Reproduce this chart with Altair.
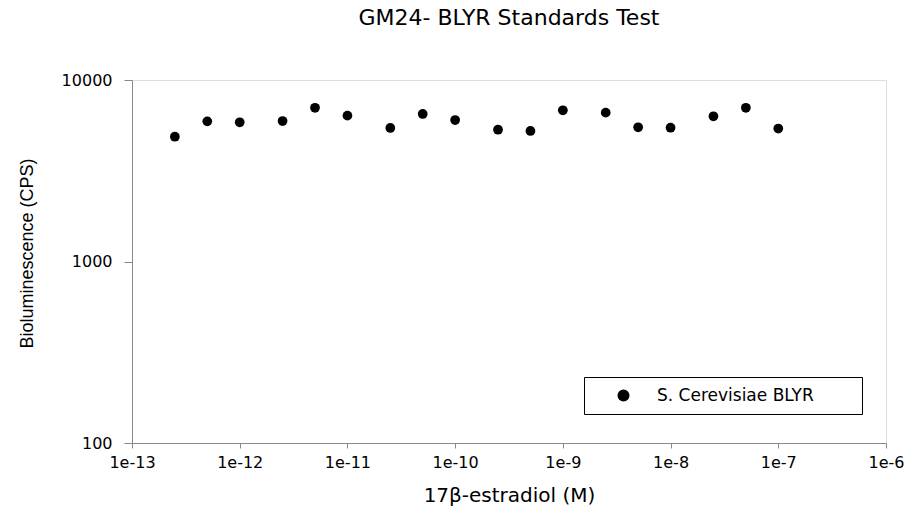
import altair as alt
import pandas as pd

# ---- data ----
concentration = [2.5e-13, 5e-13, 1e-12, 2.5e-12, 5e-12, 1e-11, 2.5e-11, 5e-11, 1e-10,
                 2.5e-10, 5e-10, 1e-9, 2.5e-9, 5e-9, 1e-8, 2.5e-8, 5e-8, 1e-7]
bioluminescence = [4870, 5920, 5850, 5940, 7030, 6360, 5440, 6500, 6020,
                   5320, 5240, 6810, 6610, 5490, 5460, 6310, 7030, 5400]
series_name = "S. Cerevisiae BLYR"
x_ticks = [1e-13, 1e-12, 1e-11, 1e-10, 1e-9, 1e-8, 1e-7, 1e-6]
y_ticks = [100, 1000, 10000]

df = pd.DataFrame({
    "conc": concentration,
    "cps": bioluminescence,
    "series": [series_name] * len(concentration),
})

AXIS_GRAY = "#6a6a6a"
FONT = "DejaVu Sans"

points = alt.Chart(df).mark_circle(size=95, opacity=1).encode(
    x=alt.X(
        "conc:Q",
        scale=alt.Scale(type="log", domain=[1e-13, 1e-6], nice=False),
        axis=alt.Axis(
            values=x_ticks,
            labelExpr="'1e' + round(log(datum.value) / LN10)",
            labelFlush=False,
            labelOverlap=False,
            title="17\u03b2-estradiol (M)",
            titleFontSize=20,
            titleFont=FONT,
            titleFontWeight="normal",
            titleColor="black",
            titleY=52,
            titleBaseline="middle",
            labelFontSize=16,
            labelFont=FONT,
            labelColor="black",
            labelPadding=6,
            tickSize=5,
            grid=False,
        ),
    ),
    y=alt.Y(
        "cps:Q",
        scale=alt.Scale(type="log", domain=[100, 10000], nice=False),
        axis=alt.Axis(
            values=y_ticks,
            format="d",
            labelFlush=False,
            labelOverlap=False,
            title="Bioluminescence (CPS)",
            titleFontSize=18,
            titleFont="Liberation Sans",
            titleFontWeight="normal",
            titleColor="black",
            titleX=-105,
            titleY=173,
            titleBaseline="middle",
            labelFontSize=16,
            labelFont=FONT,
            labelColor="black",
            labelPadding=12,
            tickSize=8,
            grid=False,
        ),
    ),
    color=alt.Color(
        "series:N",
        scale=alt.Scale(range=["black"]),
        legend=alt.Legend(
            title=None,
            orient="none",
            legendX=452,
            legendY=297,
            strokeColor="black",
            fillColor="white",
            padding=10,
            symbolOffset=21,
            symbolSize=110,
            symbolType="circle",
            symbolFillColor="black",
            symbolStrokeColor="black",
            labelFontSize=17,
            labelFont=FONT,
            labelColor="black",
            labelOffset=25,
            labelLimit=400,
            labelExpr="datum.label + '\u2800\u2800\u2800'",
        ),
    ),
)

chart = points.properties(
    width=754,
    height=363,
    title=alt.TitleParams(
        "GM24- BLYR Standards Test",
        fontSize=22,
        font=FONT,
        fontWeight="normal",
        color="black",
        anchor="middle",
        baseline="alphabetic",
        offset=25,
    ),
    autosize=alt.AutoSizeParams(type="none"),
    padding={"left": 132, "top": 80, "right": 25, "bottom": 65},
).configure_view(
    stroke=AXIS_GRAY,
    strokeWidth=1.3,
).configure_axis(
    domainColor=AXIS_GRAY,
    domainWidth=1.3,
    tickColor=AXIS_GRAY,
    tickWidth=1.3,
).configure(background="white")

chart.save("out.html", embed_options={"renderer": "svg", "actions": False})
